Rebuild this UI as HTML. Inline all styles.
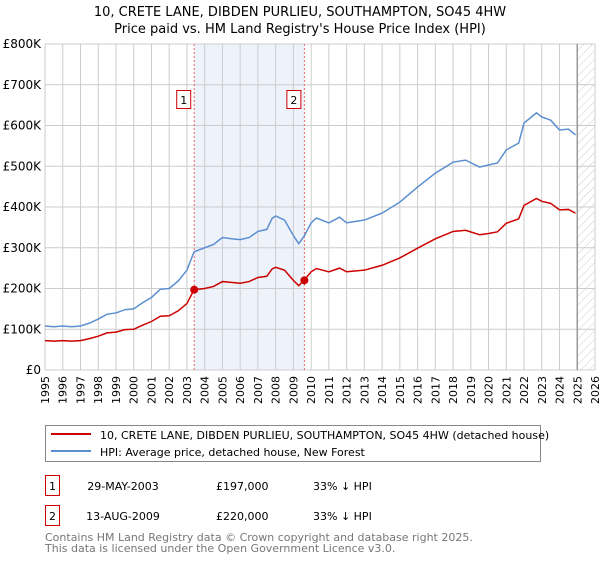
<!DOCTYPE html>
<html><head><meta charset="utf-8"><style>
body{margin:0;background:#fff;font-family:"Liberation Sans","DejaVu Sans",sans-serif;}
svg text{font-family:"DejaVu Sans","Liberation Sans",sans-serif;}
</style></head><body>
<svg id="chart" width="600" height="560" xmlns="http://www.w3.org/2000/svg">
<defs><pattern id="hatch" patternUnits="userSpaceOnUse" width="6" height="6" patternTransform="rotate(45)"><line x1="0" y1="0" x2="0" y2="6" stroke="#ccc" stroke-width="1"/></pattern></defs>
<text x="300" y="16" text-anchor="middle" font-size="13">10, CRETE LANE, DIBDEN PURLIEU, SOUTHAMPTON, SO45 4HW</text>
<text x="300" y="33" text-anchor="middle" font-size="13">Price paid vs. HM Land Registry's House Price Index (HPI)</text>
<g id="plot"></g>
<rect x="45.5" y="425.5" width="495" height="36" fill="#fff" stroke="#888"/>
<line x1="51" y1="434" x2="91" y2="434" stroke="#cc0000" stroke-width="2"/>
<text x="100" y="439" font-size="11">10, CRETE LANE, DIBDEN PURLIEU, SOUTHAMPTON, SO45 4HW (detached house)</text>
<line x1="51" y1="451" x2="91" y2="451" stroke="#5b8fd0" stroke-width="2"/>
<text x="100" y="456" font-size="11">HPI: Average price, detached house, New Forest</text>
<g font-size="11">
<rect x="45.5" y="475.5" width="14" height="20" fill="#fff" stroke="#cc0000"/><text x="52.5" y="490" text-anchor="middle">1</text>
<text x="123" y="490" text-anchor="middle">29-MAY-2003</text><text x="216" y="490">£197,000</text><text x="313" y="490">33% ↓ HPI</text></g>
<g font-size="11">
<rect x="45.5" y="505.5" width="14" height="20" fill="#fff" stroke="#cc0000"/><text x="52.5" y="520" text-anchor="middle">2</text>
<text x="123" y="520" text-anchor="middle">13-AUG-2009</text><text x="216" y="520">£220,000</text><text x="313" y="520">33% ↓ HPI</text></g>
<text x="45" y="541" font-size="11" fill="#777">Contains HM Land Registry data © Crown copyright and database right 2025.</text>
<text x="45" y="552" font-size="11" fill="#777">This data is licensed under the Open Government Licence v3.0.</text>
</svg>
<script>
const hpiYears=[1995,1995.5,1996,1996.5,1997,1997.5,1998,1998.5,1999,1999.5,2000,2000.5,2001,2001.5,2002,2002.5,2003,2003.4,2004,2004.5,2005,2005.5,2006,2006.5,2007,2007.5,2007.8,2008,2008.5,2009,2009.3,2009.6,2010,2010.3,2011,2011.6,2012,2013,2014,2015,2016,2017,2018,2018.7,2019.5,2020,2020.5,2021,2021.7,2022,2022.7,2023,2023.5,2024,2024.5,2024.9];
const hpiValues=[108,106,108,106,108,115,125,137,140,148,150,165,178,198,200,218,245,290,300,308,325,322,320,325,340,345,372,378,368,330,310,328,361,373,361,375,361,368,385,412,449,483,510,515,498,503,508,540,557,606,631,621,613,589,591,577];
const redValues=[72,71,72,71,72,77,83,91,93,99,100,110,119,132,133,145,163,197,200,205,217,215,213,217,227,230,248,252,245,220,207,220,241,249,241,250,241,245,257,275,299,322,340,343,332,335,339,360,371,404,421,414,409,393,394,385];
const saleYears=[2003.41,2009.62];
const saleValues=[197,220];
const saleLabels=["1","2"];
const yTicks=[0,100,200,300,400,500,600,700,800];
const yTickLabels=["£0","£100K","£200K","£300K","£400K","£500K","£600K","£700K","£800K"];
const xTicks=[1995,1996,1997,1998,1999,2000,2001,2002,2003,2004,2005,2006,2007,2008,2009,2010,2011,2012,2013,2014,2015,2016,2017,2018,2019,2020,2021,2022,2023,2024,2025,2026];
const X0=45,X1=595,Y0=370,Y1=44;
const xs=y=>X0+(y-1995)/(2026-1995)*(X1-X0);
const ys=v=>Y0-v/800*(Y0-Y1);
const NS="http://www.w3.org/2000/svg";
const g=document.getElementById('plot');
function mk(t,a){const e=document.createElementNS(NS,t);for(const k in a)e.setAttribute(k,a[k]);g.appendChild(e);return e;}
let e=mk('rect',{x:xs(saleYears[0]),y:Y1,width:xs(saleYears[1])-xs(saleYears[0]),height:Y0-Y1,fill:'#eef2fb'});


e=mk('rect',{x:xs(2025),y:Y1,width:X1-xs(2025),height:Y0-Y1,fill:'url(#hatch)'});


xTicks.forEach((t,i)=>{
 const l=mk('line',{x1:xs(t),x2:xs(t),y1:Y1,y2:Y0,stroke:'#ccc','stroke-width':1});
 
 
 const tx=mk('text',{x:0,y:0,'font-size':11,'text-anchor':'end',transform:`translate(${xs(t)+4},${Y0+6}) rotate(-90)`});
 tx.textContent=t;
 
 
});
yTicks.forEach((t,i)=>{
 const l=mk('line',{x1:X0,x2:X1,y1:ys(t),y2:ys(t),stroke:'#ccc','stroke-width':1});
 
 
 const tx=mk('text',{x:X0-4,y:ys(t)+4,'font-size':12,'text-anchor':'end'});
 tx.textContent=yTickLabels[i];
 
 
});
e=mk('line',{x1:xs(2025),x2:xs(2025),y1:Y1,y2:Y0,stroke:'#999','stroke-width':1.5});


saleYears.forEach((y,i)=>{
 const l=mk('line',{x1:xs(y),x2:xs(y),y1:Y1,y2:Y0,stroke:'#e66','stroke-width':1,'stroke-dasharray':'2,2'});
 
 
 const r=mk('rect',{x:xs(y)-17.5,y:90.5,width:14,height:18,fill:'#fff',stroke:'#cc0000'});
 
 
 const t=mk('text',{x:xs(y)-10.5,y:104,'font-size':11,'text-anchor':'middle'});
 t.textContent=saleLabels[i];
 
 
});
e=mk('polyline',{points:hpiYears.map((y,i)=>xs(y)+','+ys(hpiValues[i])).join(' '),fill:'none',stroke:'#5b8fd0','stroke-width':1.5});


e=mk('polyline',{points:hpiYears.map((y,i)=>xs(y)+','+ys(redValues[i])).join(' '),fill:'none',stroke:'#cc0000','stroke-width':1.5});


saleYears.forEach((y,i)=>{
 const c=mk('circle',{cx:xs(y),cy:ys(saleValues[i]),r:4,fill:'#cc0000'});
 
 
});
</script>
</body></html>
